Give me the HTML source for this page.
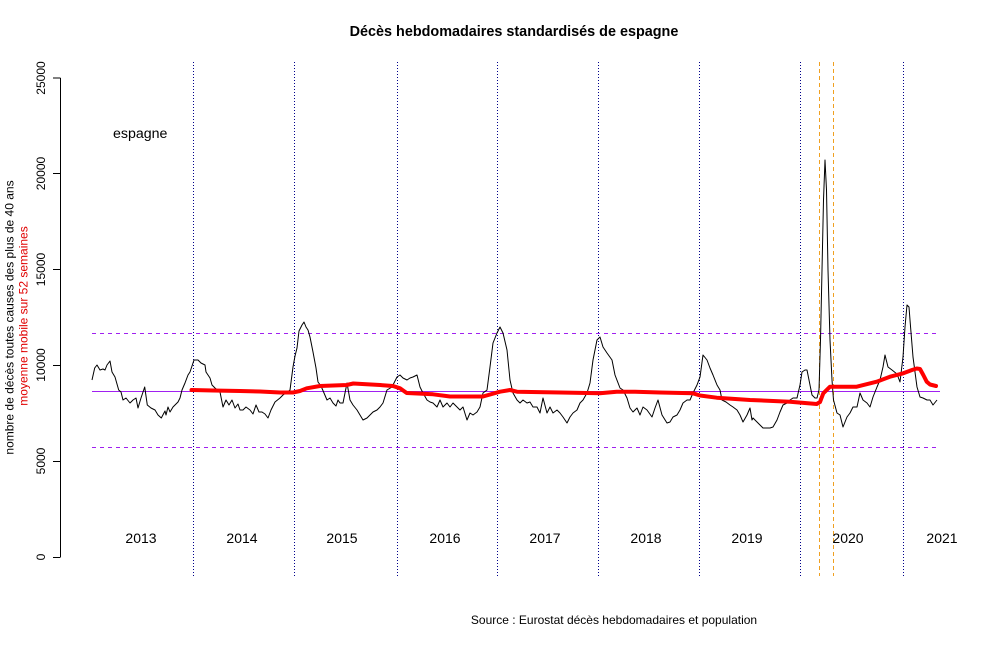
<!DOCTYPE html>
<html>
<head>
<meta charset="utf-8">
<style>
html,body{margin:0;padding:0;background:#fff;}
svg{display:block;}
text{font-family:"Liberation Sans",Arial,sans-serif;}
</style>
</head>
<body>
<svg width="1000" height="649" viewBox="0 0 1000 649" xmlns="http://www.w3.org/2000/svg">
<rect x="0" y="0" width="1000" height="649" fill="#fff"/>

<!-- Title -->
<text x="514" y="36" font-size="14.4" font-weight="bold" text-anchor="middle" fill="#000">Décès hebdomadaires standardisés de espagne</text>

<!-- Y axis -->
<g stroke="#000" stroke-width="1" fill="none">
<line x1="60.5" y1="78" x2="60.5" y2="557"/>
<line x1="53" y1="557.5" x2="60.5" y2="557.5"/>
<line x1="53" y1="461.5" x2="60.5" y2="461.5"/>
<line x1="53" y1="365.5" x2="60.5" y2="365.5"/>
<line x1="53" y1="269.5" x2="60.5" y2="269.5"/>
<line x1="53" y1="173.5" x2="60.5" y2="173.5"/>
<line x1="53" y1="78" x2="60.5" y2="78"/>
</g>
<g font-size="12" fill="#000" text-anchor="middle">
<text transform="translate(45,557) rotate(-90)">0</text>
<text transform="translate(45,461) rotate(-90)">5000</text>
<text transform="translate(45,365) rotate(-90)">10000</text>
<text transform="translate(45,269.5) rotate(-90)">15000</text>
<text transform="translate(45,173.5) rotate(-90)">20000</text>
<text transform="translate(45,78) rotate(-90)">25000</text>
</g>

<!-- Y labels -->
<text transform="translate(13.5,317.5) rotate(-90)" font-size="12" text-anchor="middle" fill="#000">nombre de décès toutes causes des plus de 40 ans</text>
<text transform="translate(27.5,316) rotate(-90)" font-size="12" text-anchor="middle" fill="#e00000">moyenne mobile sur 52 semaines</text>

<!-- espagne label -->
<text x="113" y="138" font-size="14.2" fill="#000">espagne</text>

<!-- Horizontal reference lines -->
<line x1="92" y1="333.5" x2="940" y2="333.5" stroke="#a020f0" stroke-width="1" stroke-dasharray="4 4"/>
<line x1="92" y1="447.5" x2="940" y2="447.5" stroke="#a020f0" stroke-width="1" stroke-dasharray="4 4"/>
<line x1="92" y1="391.5" x2="940" y2="391.5" stroke="#a020f0" stroke-width="1"/>

<!-- Vertical year lines -->
<g stroke="#00008b" stroke-width="1" stroke-dasharray="1 2">
<line x1="193.5" y1="62" x2="193.5" y2="576"/>
<line x1="294.5" y1="62" x2="294.5" y2="576"/>
<line x1="397.5" y1="62" x2="397.5" y2="576"/>
<line x1="497.5" y1="62" x2="497.5" y2="576"/>
<line x1="598.5" y1="62" x2="598.5" y2="576"/>
<line x1="699.5" y1="62" x2="699.5" y2="576"/>
<line x1="800.5" y1="62" x2="800.5" y2="576"/>
<line x1="903.5" y1="62" x2="903.5" y2="576"/>
</g>
<g stroke="#f0a020" stroke-width="1" stroke-dasharray="4 3">
<line x1="819.5" y1="62" x2="819.5" y2="576"/>
<line x1="833.5" y1="62" x2="833.5" y2="576"/>
</g>

<!-- Year labels -->
<g font-size="14" fill="#000" text-anchor="middle">
<text x="141" y="543">2013</text>
<text x="242" y="543">2014</text>
<text x="342" y="543">2015</text>
<text x="445" y="543">2016</text>
<text x="545" y="543">2017</text>
<text x="646" y="543">2018</text>
<text x="747" y="543">2019</text>
<text x="848" y="543">2020</text>
<text x="942" y="543">2021</text>
</g>

<!-- Weekly deaths -->
<polyline fill="none" stroke="#000" stroke-width="1" stroke-linejoin="round" points="
92,380 94.7,368 97,365 100,370 103,369 105,370 107,365 110,361 112,372 115,377 118.7,390 121,392 123,400 126,398 130,403 133,400 136,398 138,408 141,398 144.7,387 147.3,405 151,408 155,410 158,415 161.3,418 165,411 166,415 168,407 170,412 173,407 175,405 178,402 180,398 182,390 185,383 188,375 190,372 194,360 198,360 201,363 205,365 206,372 210,378 212,385 215,388 220,392 223,407 226,400 229,405 232,400 235,408 238,404 240,410 243,410 246,407 250,410 253,414 256,405 259,412 262,412 265,414 268,418 271,410 275,402 280,398 283,395 286,393 290,390 293,367 295,356 297,348 299,331 302,325 304,322 306,327 308,330 310,337 313,352 316,368 318,382 321,386 324,393 327,400 330,398 333,403 336,406 338,400 340,403 343,403 347,383 350,400 353,405 357,410 360,415 363,420 367,418 370,415 373,412 377,410 380,407 383,403 387,390 392,387 397,377 400,375 403,378 407,380 410,378 413,377 417,375 420,387 423,393 427,400 430,402 433,403 437,407 440,400 443,407 447,403 450,407 453,403 457,407 460,410 463,407 467,420 470,413 473,415 477,412 480,407 483,393 487,390 490,367 493,343 497,333 500,327 503,333 507,350 510,380 513,393 517,400 520,403 523,400 527,403 530,402 533,407 537,407 540,413 543,398 547,413 550,407 553,413 557,410 560,413 563,417 567,423 570,417 573,413 577,410 580,403 583,400 587,393 590,383 593,360 597,340 600,337 603,347 607,353 612,360 615,375 620,388 623,390 627,398 630,408 633,412 637,408 640,415 643,407 647,410 652,417 655,408 658,400 662,415 667,423 670,422 673,417 677,415 680,410 683,403 687,400 690,400 693,393 697,385 700,377 703,355 707,360 710,368 713,375 717,385 720,390 722,400 726,402 730,405 733,407 737,410 740,415 743,422 747,415 750,408 752,420 753,418 757,422 760,425 763,428 767,428 770,428 773,427 777,420 780,412 783,405 787,403 790,400 793,398 797,398 800,385 802,372 805,370 807,370 809,380 812,395 815,398 817,398 819,390 820.5,340 822,270 823.5,200 825,160 826.5,190 828,270 830,340 832,380 833.5,400 837,413 840,415 843,427 847,417 850,413 853,407 857,407 860,393 863,400 867,403 870,407 873,397 877,387 880,380 883,367 885,355 888,367 892,370 897,374 900,382 903,357 905,327 907,305 909,307 910,320 913,357 917,387 920,397 923,398 927,400 930,400 933,405 937,400"/>

<!-- Moving average -->
<polyline fill="none" stroke="#ff0000" stroke-width="4" stroke-linejoin="round" stroke-linecap="round" points="
191.5,390 213,390.5 240,391 260,391.5 280,392.5 293,392.5 300,391 306.7,388.3 320,386 346.7,385 353.3,383.5 380,385 393,386 400,388.3 406.7,393 433,394.3 450,396.5 483,396.5 500,391.7 510,390 517,391.7 560,392.5 600,393.3 616.7,391.7 633,391.7 660,392.5 693,393.3 700,395.5 716.7,397.7 750,400 790,401.7 816.7,404 820,402 823.3,393.3 830,386.7 856.7,386.7 876.7,381.7 890,376.7 903.3,373.3 912,370 916.7,368.5 920,369 923.3,375 926.7,381.7 930,384.5 936,386"/>

<!-- Source -->
<text x="614" y="624" font-size="12" text-anchor="middle" fill="#000">Source : Eurostat décès hebdomadaires et population</text>
</svg>
</body>
</html>
